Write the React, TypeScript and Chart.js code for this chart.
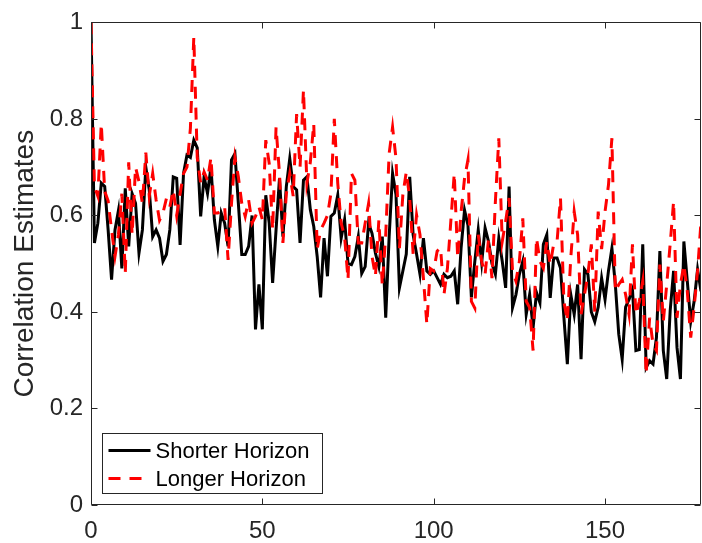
import React, { useEffect, useRef } from "react";
import { Chart, registerables } from "chart.js";

Chart.register(...registerables);

// ---- Data ----
const shorterHorizon = [
  1.0, 0.543, 0.584, 0.667, 0.66, 0.57, 0.467, 0.57, 0.61, 0.49,
  0.656, 0.536, 0.645, 0.625, 0.522, 0.57, 0.7, 0.653, 0.556, 0.57,
  0.553, 0.505, 0.519, 0.57, 0.68, 0.677, 0.539, 0.687, 0.725, 0.72,
  0.756, 0.74, 0.598, 0.68, 0.646, 0.7, 0.591, 0.536, 0.605, 0.584,
  0.536, 0.715, 0.728, 0.625, 0.519, 0.519, 0.536, 0.6, 0.364, 0.457,
  0.364, 0.642, 0.584, 0.46, 0.57, 0.677, 0.556, 0.66, 0.718, 0.66,
  0.653, 0.543, 0.673, 0.68, 0.612, 0.577, 0.515, 0.43, 0.553, 0.474,
  0.598, 0.605, 0.642, 0.553, 0.591, 0.5, 0.498, 0.515, 0.556, 0.48,
  0.494, 0.584, 0.563, 0.522, 0.494, 0.556, 0.388, 0.556, 0.687, 0.643,
  0.45, 0.485, 0.52, 0.68, 0.56, 0.52, 0.478, 0.553, 0.485, 0.478,
  0.485, 0.471, 0.457, 0.478, 0.471, 0.474, 0.485, 0.416, 0.533, 0.611,
  0.58, 0.43, 0.505, 0.57, 0.502, 0.574, 0.546, 0.5, 0.478, 0.553,
  0.505, 0.45, 0.66, 0.409, 0.436, 0.478, 0.505, 0.395, 0.436, 0.367,
  0.44, 0.419, 0.54, 0.56, 0.429, 0.512, 0.512, 0.491, 0.388, 0.292,
  0.436, 0.395, 0.457, 0.302, 0.488, 0.478, 0.4, 0.38, 0.41, 0.47,
  0.426, 0.485, 0.532, 0.457, 0.354, 0.302, 0.41, 0.426, 0.447, 0.32,
  0.322, 0.54, 0.285, 0.299, 0.292, 0.347, 0.526, 0.32, 0.261, 0.402,
  0.485, 0.326, 0.261, 0.546, 0.464, 0.38, 0.422, 0.488, 0.443,
];

const longerHorizon = [
  1.0, 0.66, 0.64, 0.79, 0.65, 0.63, 0.57, 0.515, 0.56, 0.645,
  0.48, 0.71, 0.56, 0.7, 0.67, 0.625, 0.73, 0.64, 0.687, 0.632,
  0.59, 0.605, 0.635, 0.618, 0.653, 0.6, 0.645, 0.687, 0.7, 0.78,
  0.97, 0.72, 0.667, 0.69, 0.673, 0.72, 0.605, 0.605, 0.61, 0.618,
  0.508, 0.625, 0.72, 0.68, 0.625, 0.598, 0.632, 0.584, 0.598, 0.618,
  0.591, 0.756, 0.708, 0.57, 0.783, 0.687, 0.543, 0.645, 0.687, 0.64,
  0.81, 0.7, 0.86, 0.667, 0.71, 0.79, 0.53, 0.57, 0.584, 0.6,
  0.645, 0.8, 0.667, 0.584, 0.556, 0.467, 0.687, 0.673, 0.543, 0.543,
  0.584, 0.625, 0.515, 0.474, 0.59, 0.455, 0.56, 0.728, 0.783, 0.718,
  0.532, 0.643, 0.69, 0.636, 0.52, 0.601, 0.56, 0.47, 0.375, 0.49,
  0.485, 0.526, 0.533, 0.436, 0.49, 0.588, 0.687, 0.512, 0.608, 0.677,
  0.715, 0.422, 0.408, 0.56, 0.505, 0.478, 0.55, 0.47, 0.629, 0.76,
  0.546, 0.588, 0.636, 0.485, 0.464, 0.505, 0.594, 0.422, 0.409, 0.32,
  0.553, 0.505, 0.491, 0.546, 0.498, 0.54, 0.546, 0.636, 0.422, 0.381,
  0.512, 0.608, 0.56, 0.395, 0.436, 0.478, 0.54, 0.4, 0.608, 0.53,
  0.608, 0.663, 0.76, 0.443, 0.457, 0.467, 0.436, 0.395, 0.54, 0.395,
  0.422, 0.464, 0.271, 0.388, 0.333, 0.32, 0.498, 0.38, 0.457, 0.54,
  0.629, 0.388, 0.457, 0.498, 0.443, 0.347, 0.41, 0.485, 0.587,
];

const seriesNames = ["Shorter Horizon", "Longer Horizon"];
const xTicks = [0, 50, 100, 150];
const yTicks = [0, 0.2, 0.4, 0.6, 0.8, 1];
const yTitle = "Correlation Estimates";
const xMin = 0;
const xMax = 178;

// ---- Styles ----
const FONT = "'Liberation Sans', Arial, Helvetica, sans-serif";
const AXIS_COLOR = "#262626";
const BLACK = "#000000";
const RED = "#ff0000";
const DASH = [12, 9];
const LINE_W = 3;

const boxPlugin = {
  id: "matlabBox",
  afterDatasetsDraw(chart: any) {
    const { ctx, chartArea: a, scales } = chart;
    const L = Math.round(a.left) + 0.5;
    const R = Math.round(a.right) - 0.5;
    const T = Math.round(a.top) + 0.5;
    const B = Math.round(a.bottom) - 0.5;
    ctx.save();
    ctx.strokeStyle = AXIS_COLOR;
    ctx.lineWidth = 1;
    ctx.setLineDash([]);
    ctx.beginPath();
    ctx.rect(L, T, R - L, B - T);
    const tl = 6;
    for (const v of xTicks) {
      const px = Math.round(scales.x.getPixelForValue(v)) + 0.5;
      ctx.moveTo(px, B);
      ctx.lineTo(px, B - tl);
      ctx.moveTo(px, T);
      ctx.lineTo(px, T + tl);
    }
    for (const v of yTicks) {
      const py = Math.round(scales.y.getPixelForValue(v)) + 0.5;
      ctx.moveTo(L, py);
      ctx.lineTo(L + tl, py);
      ctx.moveTo(R, py);
      ctx.lineTo(R - tl, py);
    }
    ctx.stroke();

    // legend box (lower-left, inside axes)
    const lx = L + 11;
    const ly = B - 71;
    const lw = 220;
    const lh = 60;
    ctx.fillStyle = "#ffffff";
    ctx.fillRect(lx, ly, lw, lh);
    ctx.strokeStyle = AXIS_COLOR;
    ctx.lineWidth = 1;
    ctx.strokeRect(lx, ly, lw, lh);

    const rows = [
      { name: seriesNames[0], color: BLACK, dash: [] as number[] },
      { name: seriesNames[1], color: RED, dash: DASH },
    ];
    rows.forEach((r, k) => {
      const cy = ly + 17 + k * 28;
      ctx.beginPath();
      ctx.strokeStyle = r.color;
      ctx.lineWidth = LINE_W;
      ctx.setLineDash(r.dash);
      ctx.moveTo(lx + 6, cy);
      ctx.lineTo(lx + 48, cy);
      ctx.stroke();
      ctx.setLineDash([]);
      ctx.fillStyle = "#000000";
      ctx.font = `22px ${FONT}`;
      ctx.textAlign = "left";
      ctx.textBaseline = "middle";
      ctx.fillText(r.name, lx + 53, cy + 1);
    });
    ctx.restore();
  },
};

export default function App() {
  const ref = useRef<HTMLCanvasElement | null>(null);

  useEffect(() => {
    if (!ref.current) return;
    const chart = new Chart(ref.current, {
      type: "line",
      data: {
        datasets: [
          {
            label: seriesNames[0],
            data: shorterHorizon.map((y, i) => ({ x: i, y })),
            borderColor: BLACK,
            borderWidth: LINE_W,
            pointRadius: 0,
            tension: 0,
            fill: false,
            order: 2,
          },
          {
            label: seriesNames[1],
            data: longerHorizon.map((y, i) => ({ x: i, y })),
            borderColor: RED,
            borderWidth: LINE_W,
            borderDash: DASH,
            pointRadius: 0,
            tension: 0,
            fill: false,
            order: 1,
          },
        ],
      },
      options: {
        responsive: false,
        animation: false,
        layout: { padding: { top: 20, right: 1, left: 0, bottom: 0 } },
        plugins: {
          legend: { display: false },
          tooltip: { enabled: false },
        },
        scales: {
          x: {
            type: "linear",
            min: xMin,
            max: xMax,
            grid: { display: false, drawTicks: false },
            border: { display: false },
            afterBuildTicks: (s: any) => {
              s.ticks = xTicks.map((v) => ({ value: v }));
            },
            afterFit: (s: any) => {
              s.height = 38;
            },
            ticks: {
              color: AXIS_COLOR,
              padding: 12,
              maxRotation: 0,
              font: { family: FONT, size: 24 },
              callback: (v: any) => String(v),
            },
          },
          y: {
            type: "linear",
            min: 0,
            max: 1,
            grid: { display: false, drawTicks: false },
            border: { display: false },
            afterBuildTicks: (s: any) => {
              s.ticks = yTicks.map((v) => ({ value: v }));
            },
            afterFit: (s: any) => {
              s.width = 91;
            },
            ticks: {
              color: AXIS_COLOR,
              padding: 8,
              font: { family: FONT, size: 24 },
              callback: (v: any) => String(Number(v)),
            },
            title: {
              display: true,
              text: yTitle,
              color: AXIS_COLOR,
              font: { family: FONT, size: 28 },
              padding: { top: 8, bottom: 0 },
            },
          },
        },
      },
      plugins: [boxPlugin],
    });
    return () => chart.destroy();
  }, []);

  return (
    <div style={{ position: "absolute", left: 0, top: 0, width: 702, height: 543, background: "#fff" }}>
      <canvas ref={ref} width={702} height={543} style={{ display: "block" }} />
    </div>
  );
}
